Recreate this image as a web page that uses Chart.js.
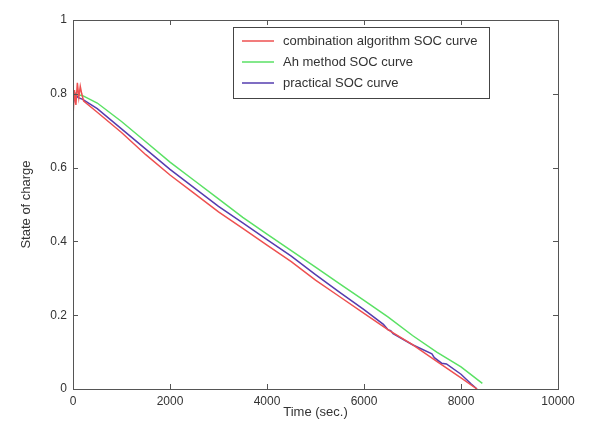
<!DOCTYPE html>
<html>
<head>
<meta charset="utf-8">
<script src="https://cdn.jsdelivr.net/npm/chart.js@4.4.0/dist/chart.umd.min.js"></script>
<style>
  html, body { margin: 0; padding: 0; background: #fff; }
  #wrap { width: 591px; height: 437px; }
</style>
</head>
<body>
<div id="wrap"><canvas id="myChart" width="591" height="437"></canvas></div>
<script>
// series
var seriesNames = ['combination algorithm SOC curve', 'Ah method SOC curve', 'practical SOC curve'];
var seriesColors = ['rgb(238,80,80)', 'rgb(90,225,100)', 'rgb(85,60,175)'];

var timeRed = [0, 30, 60, 90, 120, 150, 180, 220, 500, 1000, 1500, 2000, 2500, 3000, 3500, 4000, 4500, 5000, 5500, 6000, 6500, 7000, 7500, 8000, 8330];
var socRed  = [0.74, 0.81, 0.77, 0.83, 0.79, 0.82, 0.80, 0.78, 0.75, 0.695, 0.635, 0.58, 0.53, 0.48, 0.435, 0.39, 0.345, 0.295, 0.25, 0.205, 0.16, 0.12, 0.075, 0.03, 0.0];

var timeGreen = [0, 200, 500, 1000, 1500, 2000, 2500, 3000, 3500, 4000, 4500, 5000, 5500, 6000, 6500, 7000, 7500, 8000, 8440];
var socGreen  = [0.80, 0.795, 0.775, 0.725, 0.67, 0.615, 0.565, 0.515, 0.465, 0.42, 0.375, 0.33, 0.285, 0.24, 0.195, 0.145, 0.10, 0.06, 0.015];

var timePurple = [0, 50, 100, 200, 500, 1000, 1500, 2000, 2500, 3000, 3500, 4000, 4500, 5000, 5500, 6000, 6400, 6500, 6550, 6600, 7000, 7400, 7450, 7600, 7700, 8000, 8200, 8330];
var socPurple  = [0.77, 0.80, 0.79, 0.785, 0.76, 0.705, 0.65, 0.595, 0.545, 0.495, 0.45, 0.405, 0.36, 0.31, 0.262, 0.215, 0.175, 0.16, 0.158, 0.15, 0.12, 0.095, 0.085, 0.07, 0.068, 0.04, 0.015, 0.0];

var xTicks = [0, 2000, 4000, 6000, 8000, 10000];
var yTicks = [0, 0.2, 0.4, 0.6, 0.8, 1];

function toPoints(xs, ys) {
    var pts = [];
    for (var i = 0; i < xs.length; i++) pts.push({x: xs[i], y: ys[i]});
    return pts;
}

// matlab-like box with inward ticks
var boxPlugin = {
    id: 'boxTicks',
    afterDatasetsDraw: function(chart) {
        var ctx = chart.ctx, a = chart.chartArea;
        var xs = chart.scales.x, ys = chart.scales.y;
        ctx.save();
        ctx.strokeStyle = '#555';
        ctx.lineWidth = 1;
        ctx.strokeRect(Math.round(a.left) + 0.5, Math.round(a.top) + 0.5, Math.round(a.right - a.left), Math.round(a.bottom - a.top));
        ctx.beginPath();
        xTicks.forEach(function(v) {
            var px = Math.round(xs.getPixelForValue(v)) + 0.5;
            ctx.moveTo(px, a.bottom); ctx.lineTo(px, a.bottom - 5);
            ctx.moveTo(px, a.top); ctx.lineTo(px, a.top + 5);
        });
        yTicks.forEach(function(v) {
            var py = Math.round(ys.getPixelForValue(v)) + 0.5;
            ctx.moveTo(a.left, py); ctx.lineTo(a.left + 5, py);
            ctx.moveTo(a.right, py); ctx.lineTo(a.right - 5, py);
        });
        ctx.stroke();

        // legend box
        var lx = 233, ly = 27, lw = 256, lh = 71;
        ctx.fillStyle = '#fff';
        ctx.fillRect(lx, ly, lw, lh);
        ctx.strokeStyle = '#444';
        ctx.strokeRect(lx + 0.5, ly + 0.5, lw, lh);
        ctx.font = '13px "Liberation Sans", Arial, sans-serif';
        ctx.textBaseline = 'middle';
        for (var i = 0; i < seriesNames.length; i++) {
            var ry = ly + 14 + i * 21;
            ctx.strokeStyle = seriesColors[i];
            ctx.lineWidth = 1.5;
            ctx.beginPath();
            ctx.moveTo(lx + 9, ry); ctx.lineTo(lx + 41, ry);
            ctx.stroke();
            ctx.fillStyle = '#333';
            ctx.fillText(seriesNames[i], lx + 50, ry);
        }
        ctx.restore();
    }
};

var ctx = document.getElementById('myChart').getContext('2d');
new Chart(ctx, {
    type: 'line',
    data: {
        datasets: [
            { label: seriesNames[0], data: toPoints(timeRed, socRed), borderColor: seriesColors[0], borderWidth: 1.5, pointRadius: 0, tension: 0 },
            { label: seriesNames[1], data: toPoints(timeGreen, socGreen), borderColor: seriesColors[1], borderWidth: 1.5, pointRadius: 0, tension: 0 },
            { label: seriesNames[2], data: toPoints(timePurple, socPurple), borderColor: seriesColors[2], borderWidth: 1.5, pointRadius: 0, tension: 0 }
        ]
    },
    options: {
        responsive: false,
        animation: false,
        layout: { padding: { top: 20, right: 33, left: 0, bottom: 0 } },
        plugins: { legend: { display: false }, tooltip: { enabled: false } },
        scales: {
            x: {
                type: 'linear', min: 0, max: 10000,
                afterFit: function(s) { s.height = 48; },
                afterBuildTicks: function(s) { s.ticks = xTicks.map(function(v) { return {value: v}; }); },
                grid: { display: false, drawTicks: false },
                border: { display: false },
                ticks: { padding: 5, color: '#333', font: { family: '"Liberation Sans", Arial, sans-serif', size: 12 }, callback: function(v) { return String(v); } },
                title: { display: true, text: 'Time (sec.)', color: '#333', font: { family: '"Liberation Sans", Arial, sans-serif', size: 13 }, padding: { top: 0, bottom: 17 } }
            },
            y: {
                type: 'linear', min: 0, max: 1,
                afterFit: function(s) { s.width = 73; },
                afterBuildTicks: function(s) { s.ticks = yTicks.map(function(v) { return {value: v}; }); },
                grid: { display: false, drawTicks: false },
                border: { display: false },
                ticks: { padding: 6, color: '#333', font: { family: '"Liberation Sans", Arial, sans-serif', size: 12 }, callback: function(v) { return String(v); } },
                title: { display: true, text: 'State of charge', color: '#333', font: { family: '"Liberation Sans", Arial, sans-serif', size: 13 }, padding: { top: 19, bottom: 0 } }
            }
        }
    },
    plugins: [boxPlugin]
});
</script>
</body>
</html>
